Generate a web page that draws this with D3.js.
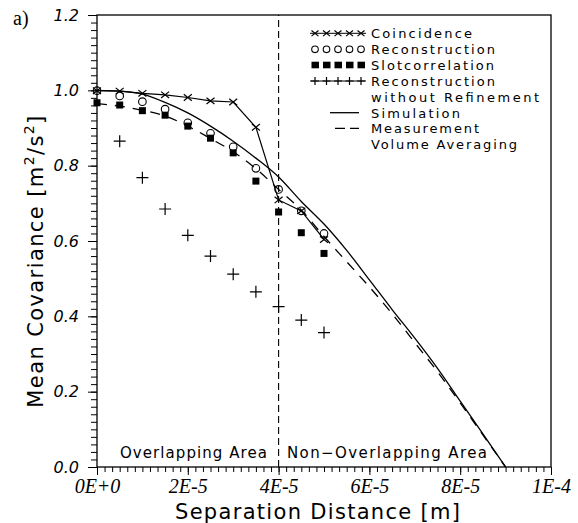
<!DOCTYPE html>
<html>
<head>
<meta charset="utf-8">
<script src="https://cdn.jsdelivr.net/npm/d3@7"></script>
<style>
  body { margin: 0; background: #fff; }
</style>
</head>
<body>
<div id="chart"></div>
<script>
// measured points, separation distance [m]
const sepDist = [0, 5e-6, 1e-5, 1.5e-5, 2e-5, 2.5e-5, 3e-5, 3.5e-5, 4e-5, 4.5e-5, 5e-5];
const coincidence = [0.999, 0.998, 0.992, 0.988, 0.981, 0.972, 0.969, 0.902, 0.709, 0.680, 0.604];
const reconstruction = [0.999, 0.985, 0.970, 0.950, 0.914, 0.886, 0.850, 0.793, 0.737, 0.680, 0.620];
const slotcorrelation = [0.967, 0.961, 0.946, 0.934, 0.905, 0.873, 0.834, 0.759, 0.677, 0.622, 0.567];
const reconNoRefinement = [null, 0.865, 0.768, 0.685, 0.615, 0.560, 0.512, 0.465, 0.426, 0.390, 0.357];

// smooth curves
const curveDist = [0, 5e-6, 1e-5, 1.5e-5, 2e-5, 2.5e-5, 3e-5, 3.5e-5, 4e-5, 4.5e-5,
                   5e-5, 5.5e-5, 6e-5, 6.5e-5, 7e-5, 7.5e-5, 8e-5, 8.5e-5, 9e-5];
const simulation = [1.0, 0.998, 0.990, 0.968, 0.940, 0.905, 0.865, 0.820, 0.770, 0.705,
                    0.645, 0.575, 0.497, 0.418, 0.342, 0.262, 0.175, 0.088, 0];
const volumeAveraging = [0.965, 0.958, 0.947, 0.932, 0.905, 0.872, 0.837, 0.792, 0.737, 0.682,
                         0.612, 0.545, 0.478, 0.407, 0.330, 0.253, 0.170, 0.085, 0];

const xTicks = [0, 2e-5, 4e-5, 6e-5, 8e-5, 1e-4];
const xTickLabels = ["0E+0", "2E-5", "4E-5", "6E-5", "8E-5", "1E-4"];
const yTicks = [0, 0.2, 0.4, 0.6, 0.8, 1.0, 1.2];
const yTickLabels = ["0.0", "0.2", "0.4", "0.6", "0.8", "1.0", "1.2"];
const boundary = 4e-5;

const legendLabels = ["Coincidence", "Reconstruction", "Slotcorrelation", "Reconstruction",
                      "without  Refinement", "Simulation", "Measurement", "Volume  Averaging"];
const legendWidths = [101, 124, 123, 124, 168, 89, 108, 146];

const W = 578, H = 523;
const svg = d3.select("#chart").append("svg")
    .attr("width", W)
    .attr("height", H)
    .style("font-family", "'DejaVu Sans', sans-serif");

const x = d3.scaleLinear().domain([0, 1e-4]).range([97, 551]);
const y = d3.scaleLinear().domain([0, 1.2]).range([467, 15]);

// minor ticks
const xMinor = d3.range(0, 61).map(i => i * 1e-4 / 60);
const yMinor = d3.range(0, 61).map(i => i * 0.02);

svg.append("g")
    .attr("transform", `translate(0,${y(0)})`)
    .call(d3.axisBottom(x).tickValues(xMinor).tickSize(5).tickFormat(""))
    .call(g => g.select(".domain").remove());
svg.append("g")
    .attr("transform", `translate(${x(0)},0)`)
    .call(d3.axisLeft(y).tickValues(yMinor).tickSize(6).tickFormat(""))
    .call(g => g.select(".domain").remove());

// major ticks + labels
const xAxis = svg.append("g")
    .attr("transform", `translate(0,${y(0)})`)
    .call(d3.axisBottom(x).tickValues(xTicks).tickSize(8).tickPadding(4)
        .tickFormat((d, i) => xTickLabels[i]))
    .call(g => g.select(".domain").remove());
xAxis.selectAll("text")
    .attr("fill", "#000")
    .style("font-family", "'Liberation Serif', serif")
    .style("font-style", "italic")
    .style("font-size", "20px");

const yAxis = svg.append("g")
    .attr("transform", `translate(${x(0)},0)`)
    .call(d3.axisLeft(y).tickValues(yTicks).tickSize(9).tickPadding(9)
        .tickFormat((d, i) => yTickLabels[i]))
    .call(g => g.select(".domain").remove());
yAxis.selectAll("text")
    .attr("fill", "#000")
    .style("font-family", "'DejaVu Sans', sans-serif")
    .style("font-style", "oblique")
    .style("font-size", "16px");

svg.selectAll(".tick line").attr("stroke", "#000");

// frame
svg.append("rect")
    .attr("x", x(0)).attr("y", y(1.2))
    .attr("width", x(1e-4) - x(0)).attr("height", y(0) - y(1.2))
    .attr("fill", "none").attr("stroke", "#000").attr("stroke-width", 1.3);

// boundary between overlapping / non-overlapping
svg.append("line")
    .attr("x1", x(boundary)).attr("x2", x(boundary))
    .attr("y1", y(0)).attr("y2", y(1.2))
    .attr("stroke", "#000").attr("stroke-width", 1.1)
    .attr("stroke-dasharray", "7,4");

svg.append("text")
    .attr("x", 120).attr("y", 458)
    .attr("textLength", 147).attr("lengthAdjust", "spacing")
    .style("font-size", "15px")
    .text("Overlapping  Area");
svg.append("text")
    .attr("x", 287).attr("y", 458)
    .attr("textLength", 200).attr("lengthAdjust", "spacing")
    .style("font-size", "15px")
    .text("Non\u2212Overlapping  Area");

// curves
const curvePts = curveDist.map((d, i) => ({ d, sim: simulation[i], vol: volumeAveraging[i] }));
svg.append("path")
    .datum(curvePts)
    .attr("fill", "none").attr("stroke", "#000").attr("stroke-width", 1.3)
    .attr("d", d3.line().x(p => x(p.d)).y(p => y(p.sim)).curve(d3.curveMonotoneX));
svg.append("path")
    .datum(curvePts)
    .attr("fill", "none").attr("stroke", "#000").attr("stroke-width", 1.3)
    .attr("stroke-dasharray", "10,8")
    .attr("d", d3.line().x(p => x(p.d)).y(p => y(p.vol)).curve(d3.curveMonotoneX));

// coincidence: connected crosses
const pts = sepDist.map((d, i) => ({
    d, co: coincidence[i], re: reconstruction[i], sl: slotcorrelation[i], nr: reconNoRefinement[i]
}));
svg.append("path")
    .datum(pts)
    .attr("fill", "none").attr("stroke", "#000").attr("stroke-width", 1.2)
    .attr("d", d3.line().x(p => x(p.d)).y(p => y(p.co)));

function cross(sel, s) {
    sel.append("path")
        .attr("d", `M${-s},${-s * 0.8}L${s},${s * 0.8}M${-s},${s * 0.8}L${s},${-s * 0.8}`)
        .attr("stroke", "#000").attr("stroke-width", 1.2).attr("fill", "none");
}
function plus(sel, s) {
    sel.append("path")
        .attr("d", `M${-s},0L${s},0M0,${-s}L0,${s}`)
        .attr("stroke", "#000").attr("stroke-width", 1.2).attr("fill", "none");
}

svg.selectAll(".sq").data(pts).join("rect")
    .attr("class", "sq")
    .attr("x", p => x(p.d) - 3.5).attr("y", p => y(p.sl) - 3.5)
    .attr("width", 7).attr("height", 7).attr("fill", "#000");

svg.selectAll(".ci").data(pts).join("circle")
    .attr("class", "ci")
    .attr("cx", p => x(p.d)).attr("cy", p => y(p.re)).attr("r", 3.8)
    .attr("fill", "none").attr("stroke", "#000").attr("stroke-width", 1.1);

svg.selectAll(".co").data(pts).join("g")
    .attr("class", "co")
    .attr("transform", p => `translate(${x(p.d)},${y(p.co)})`)
    .each(function () { cross(d3.select(this), 4); });

svg.selectAll(".nr").data(pts.filter(p => p.nr !== null)).join("g")
    .attr("class", "nr")
    .attr("transform", p => `translate(${x(p.d)},${y(p.nr)})`)
    .each(function () { plus(d3.select(this), 6); });

// legend
const rowY = [33.3, 49.3, 65, 81, 96.7, 112.7, 128.3, 144];
const symX = [315, 326.5, 338, 349.5, 361];
const leg = svg.append("g");

leg.selectAll("text").data(legendLabels).join("text")
    .attr("x", 371).attr("y", (d, i) => rowY[i] + 4.8)
    .attr("textLength", (d, i) => legendWidths[i]).attr("lengthAdjust", "spacing")
    .style("font-size", "13px")
    .text(d => d);

leg.append("line").attr("x1", 310).attr("x2", 366).attr("y1", rowY[0]).attr("y2", rowY[0])
    .attr("stroke", "#000").attr("stroke-width", 1);
symX.forEach(sx => cross(leg.append("g").attr("transform", `translate(${sx},${rowY[0]})`), 3.5));

symX.forEach(sx => leg.append("circle").attr("cx", sx).attr("cy", rowY[1]).attr("r", 3.3)
    .attr("fill", "none").attr("stroke", "#000").attr("stroke-width", 1.1));

symX.forEach(sx => leg.append("rect").attr("x", sx - 3.5).attr("y", rowY[2] - 3.3)
    .attr("width", 7.5).attr("height", 6.6).attr("fill", "#000"));

leg.append("line").attr("x1", 310).attr("x2", 366).attr("y1", rowY[3]).attr("y2", rowY[3])
    .attr("stroke", "#000").attr("stroke-width", 1);
symX.forEach(sx => plus(leg.append("g").attr("transform", `translate(${sx},${rowY[3]})`), 4));

leg.append("line").attr("x1", 330).attr("x2", 359).attr("y1", rowY[5]).attr("y2", rowY[5])
    .attr("stroke", "#000").attr("stroke-width", 1.3);
leg.append("line").attr("x1", 335).attr("x2", 359).attr("y1", rowY[6]).attr("y2", rowY[6])
    .attr("stroke", "#000").attr("stroke-width", 1.3).attr("stroke-dasharray", "10,5");

// titles
svg.append("text")
    .attr("x", 13).attr("y", 25)
    .style("font-family", "'Liberation Serif', serif")
    .style("font-size", "20px")
    .text("a)");

svg.append("text")
    .attr("x", 175).attr("y", 519)
    .attr("textLength", 285).attr("lengthAdjust", "spacing")
    .style("font-size", "21px")
    .text("Separation  Distance  [m]");

const yt = svg.append("text")
    .attr("transform", "translate(43,261) rotate(-90)")
    .attr("text-anchor", "middle")
    .style("font-size", "21px")
    .style("letter-spacing", "1.4px");
yt.append("tspan").text("Mean  Covariance  [m");
yt.append("tspan").attr("dy", -9).style("font-size", "14px").text("2");
yt.append("tspan").attr("dy", 9).text("/s");
yt.append("tspan").attr("dy", -9).style("font-size", "14px").text("2");
yt.append("tspan").attr("dy", 9).text("]");
</script>
</body>
</html>
